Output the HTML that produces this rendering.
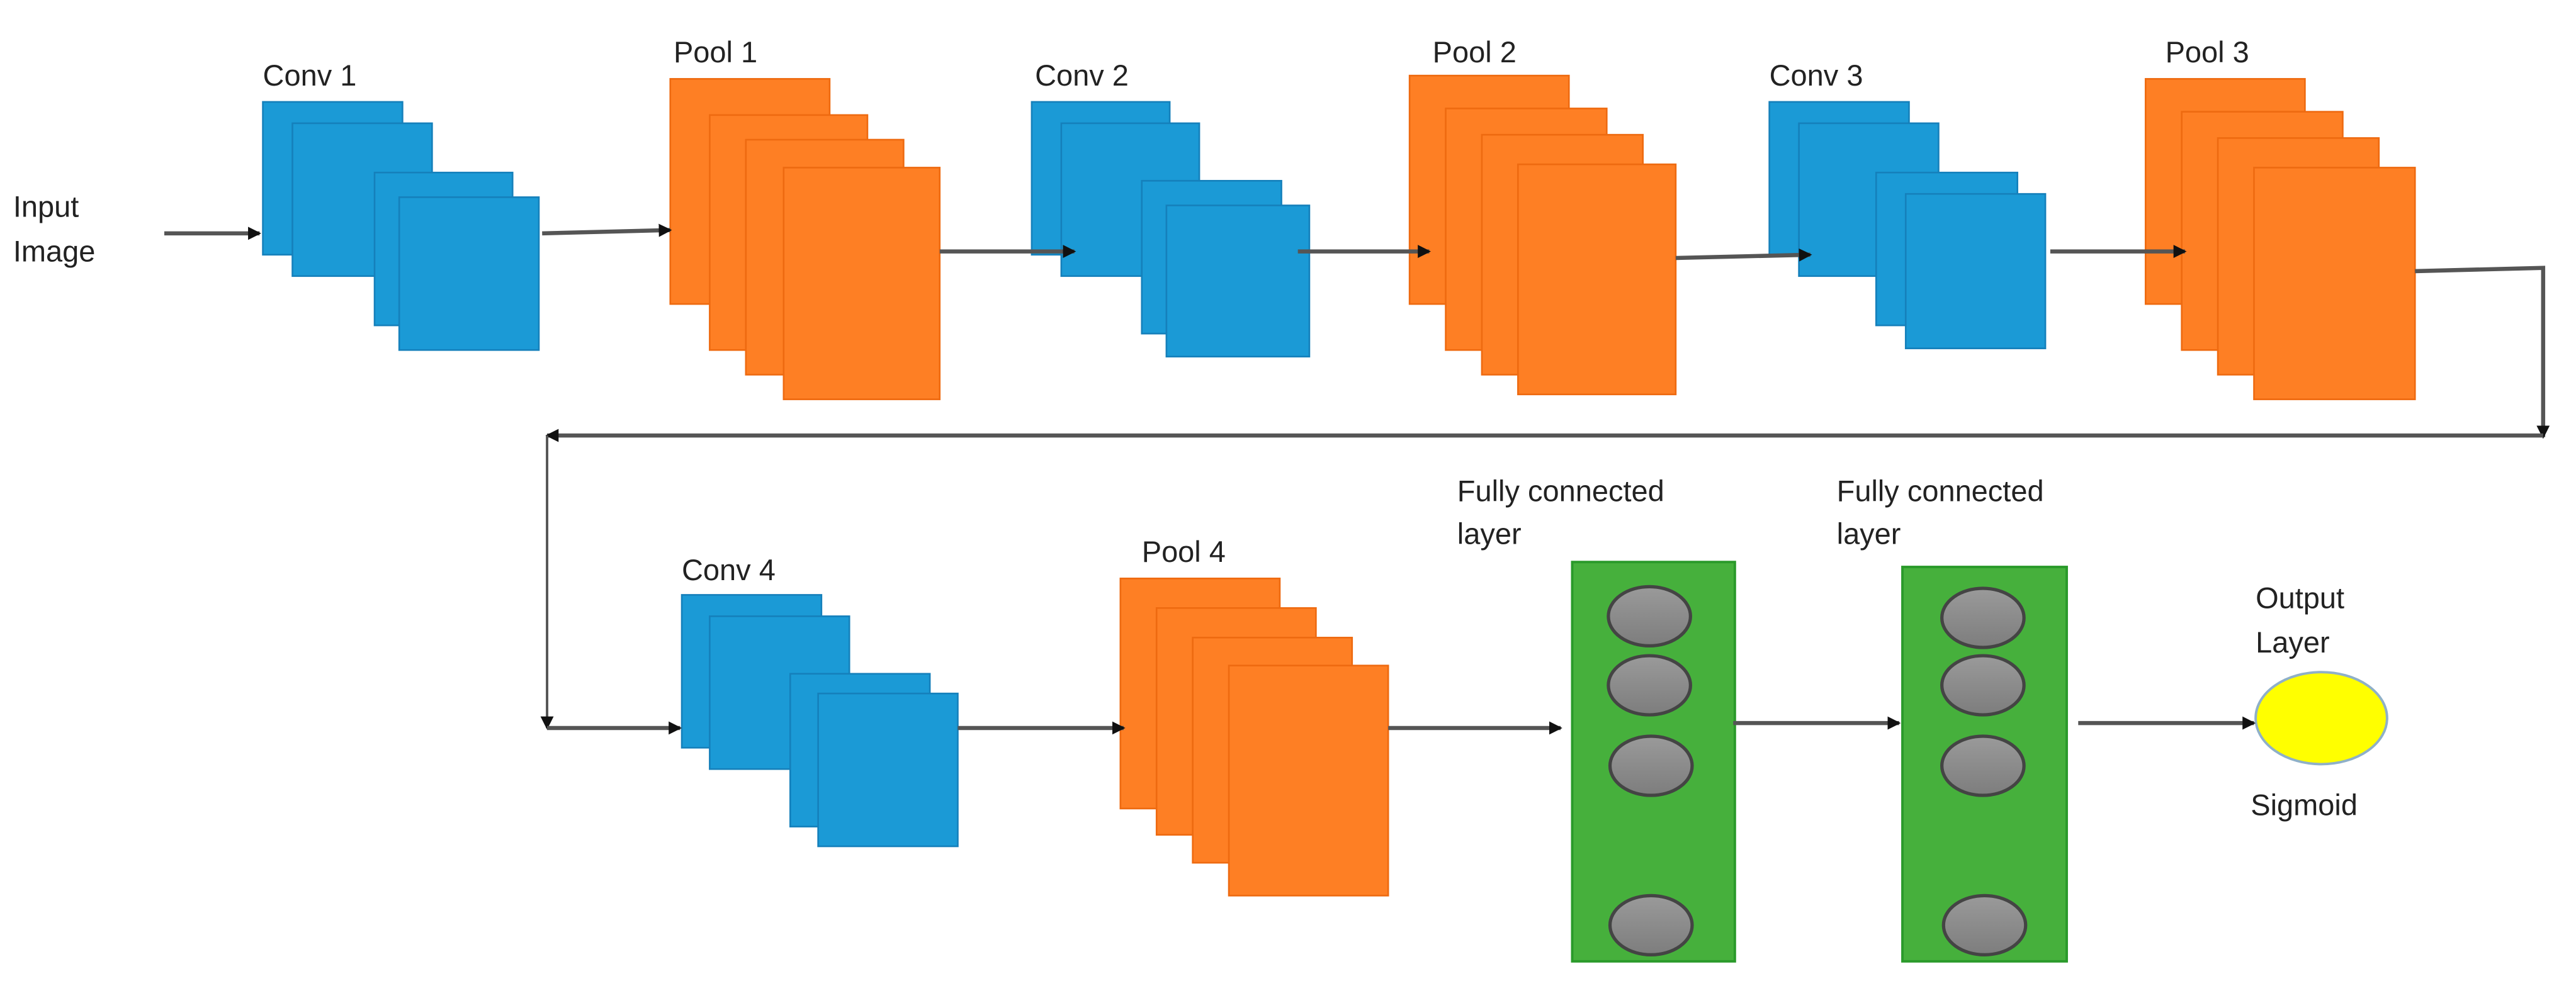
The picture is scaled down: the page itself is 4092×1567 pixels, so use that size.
<!DOCTYPE html>
<html><head><meta charset="utf-8"><style>
html,body{margin:0;padding:0;background:#fff;}
svg{display:block;}
text{font-family:"Liberation Sans",sans-serif;font-size:18px;fill:#222;}
</style></head><body>
<svg width="4092" height="1567" viewBox="0 0 1568 600" preserveAspectRatio="none" xmlns="http://www.w3.org/2000/svg">
<defs>
<marker id="ar" markerWidth="8" markerHeight="8" refX="7" refY="4" orient="auto" markerUnits="userSpaceOnUse"><path d="M0,0 L8,4 L0,8 z" fill="#111"/></marker>
<linearGradient id="gg" x1="0" y1="0" x2="0" y2="1"><stop offset="0" stop-color="#9a9a9a"/><stop offset="1" stop-color="#7d7d7d"/></linearGradient>
</defs>
<g fill="#1b9ad6" stroke="#1580bb" stroke-width="1">
<rect x="160" y="62" width="85" height="93"/><rect x="178" y="75" width="85" height="93"/><rect x="228" y="105" width="84" height="93"/><rect x="243" y="120" width="85" height="93"/>
<rect x="628" y="62" width="84" height="93"/><rect x="646" y="75" width="84" height="93"/><rect x="695" y="110" width="85" height="93"/><rect x="710" y="125" width="87" height="92"/>
<rect x="1077" y="62" width="85" height="93"/><rect x="1095" y="75" width="85" height="93"/><rect x="1142" y="105" width="86" height="93"/><rect x="1160" y="118" width="85" height="94"/>
<rect x="415" y="362" width="85" height="93"/><rect x="432" y="375" width="85" height="93"/><rect x="481" y="410" width="85" height="93"/><rect x="498" y="422" width="85" height="93"/>
</g>
<g fill="#fe7f24" stroke="#ee6a10" stroke-width="1">
<rect x="408" y="48" width="97" height="137"/><rect x="432" y="70" width="96" height="143"/><rect x="454" y="85" width="96" height="143"/><rect x="477" y="102" width="95" height="141"/>
<rect x="858" y="46" width="97" height="139"/><rect x="880" y="66" width="98" height="147"/><rect x="902" y="82" width="98" height="146"/><rect x="924" y="100" width="96" height="140"/>
<rect x="1306" y="48" width="97" height="137"/><rect x="1328" y="68" width="98" height="145"/><rect x="1350" y="84" width="98" height="144"/><rect x="1372" y="102" width="98" height="141"/>
<rect x="682" y="352" width="97" height="140"/><rect x="704" y="370" width="97" height="138"/><rect x="726" y="388" width="97" height="137"/><rect x="748" y="405" width="97" height="140"/>
</g>
<g fill="#46b03c" stroke="#2a9a2a" stroke-width="1.5">
<rect x="957" y="342" width="99" height="243"/><rect x="1158" y="345" width="100" height="240"/>
</g>
<g fill="url(#gg)" stroke="#444" stroke-width="2">
<ellipse cx="1004" cy="375" rx="25" ry="18"/><ellipse cx="1004" cy="417" rx="25" ry="18"/><ellipse cx="1005" cy="466" rx="25" ry="18"/><ellipse cx="1005" cy="563" rx="25" ry="18"/>
<ellipse cx="1207" cy="376" rx="25" ry="18"/><ellipse cx="1207" cy="417" rx="25" ry="18"/><ellipse cx="1207" cy="466" rx="25" ry="18"/><ellipse cx="1208" cy="563" rx="25" ry="18"/>
</g>
<ellipse cx="1413" cy="437" rx="40" ry="28" fill="#ffff00" stroke="#8fb0c8" stroke-width="1.5"/>
<g stroke="#555" stroke-width="2.5" fill="none" marker-end="url(#ar)">
<line x1="100" y1="142" x2="158" y2="142"/>
<line x1="330" y1="142" x2="408" y2="140"/>
<line x1="572" y1="153" x2="654" y2="153"/>
<line x1="790" y1="153" x2="870" y2="153"/>
<line x1="1020" y1="157" x2="1102" y2="155"/>
<line x1="1248" y1="153" x2="1330" y2="153"/>
<polyline points="1470,165 1548,163 1548,266"/>
<line x1="1548" y1="265" x2="333" y2="265"/>
<line x1="333" y1="265" x2="333" y2="443" stroke-width="1.5"/>
<line x1="333" y1="443" x2="414" y2="443"/>
<line x1="583" y1="443" x2="684" y2="443"/>
<line x1="845" y1="443" x2="950" y2="443"/>
<line x1="1055" y1="440" x2="1156" y2="440"/>
<line x1="1265" y1="440" x2="1372" y2="440"/>
</g>
<text x="8" y="132">Input</text><text x="8" y="159">Image</text>
<text x="160" y="52">Conv 1</text><text x="410" y="38">Pool 1</text>
<text x="630" y="52">Conv 2</text><text x="872" y="38">Pool 2</text>
<text x="1077" y="52">Conv 3</text><text x="1318" y="38">Pool 3</text>
<text x="415" y="353">Conv 4</text><text x="695" y="342">Pool 4</text>
<text x="887" y="305">Fully connected</text><text x="887" y="331">layer</text>
<text x="1118" y="305">Fully connected</text><text x="1118" y="331">layer</text>
<text x="1373" y="370">Output</text><text x="1373" y="397">Layer</text>
<text x="1370" y="496">Sigmoid</text>
</svg>
</body></html>
